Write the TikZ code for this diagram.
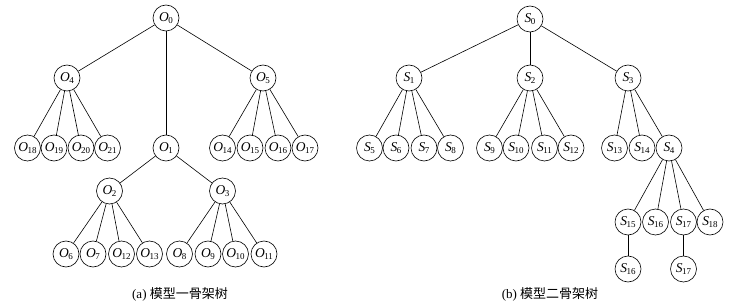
\documentclass[tikz,border=0pt]{standalone}
\usepackage{fontspec}
\setmainfont{Liberation Serif}
\newfontfamily\cjk{Noto Sans CJK SC}
\usetikzlibrary{positioning}

\newcommand{\kn}[2]{\textit{#1}\kern-0.04em\raisebox{-0.45ex}{\fontsize{9}{9}\selectfont #2}}

\tikzset{
  knoten/.style={circle, draw, line width=0.6pt, minimum size=26pt, inner sep=0pt,
                 font=\fontsize{13.5}{13.5}\selectfont},
  kante/.style={line width=0.6pt},
  titel/.style={font=\fontsize{13}{15}\selectfont}
}

\begin{document}
\begin{tikzpicture}[x=1pt, y=-1pt]
  \useasboundingbox (0,0) rectangle (738,307);

  % (a) Modell eins
  \node[knoten] (O0) at (166,18) {\kn{O}{0}};
  \node[knoten] (O4) at (67,78) {\kn{O}{4}};
  \node[knoten] (O1) at (166,148) {\kn{O}{1}};
  \node[knoten] (O5) at (263,78) {\kn{O}{5}};
  \node[knoten] (O2) at (109.5,191) {\kn{O}{2}};
  \node[knoten] (O3) at (222.5,191) {\kn{O}{3}};
  \foreach \k in {O4,O1,O5} \draw[kante] (O0) -- (\k);
  \foreach \k in {O2,O3} \draw[kante] (O1) -- (\k);

  \foreach \n/\x/\p in {18/27.5/O4, 19/54/O4, 20/81/O4, 21/107.5/O4,
                        14/222.5/O5, 15/250/O5, 16/278/O5, 17/305/O5} {
    \node[knoten] (O\n) at (\x,148) {\kn{O}{\n}};
    \draw[kante] (\p) -- (O\n);
  }
  \foreach \n/\x/\p in {6/66/O2, 7/93/O2, 12/121.5/O2, 13/149.5/O2,
                        8/179.5/O3, 9/208/O3, 10/235.5/O3, 11/264/O3} {
    \node[knoten] (O\n) at (\x,254) {\kn{O}{\n}};
    \draw[kante] (\p) -- (O\n);
  }
  \node[titel] (capa) at (180,294) {(a)\ {\cjk 模型一骨架树}};

  % (b) Modell zwei
  \node[knoten] (S0) at (530,19) {\kn{S}{0}};
  \node[knoten] (S1) at (409,78) {\kn{S}{1}};
  \node[knoten] (S2) at (530,78) {\kn{S}{2}};
  \node[knoten] (S3) at (628,78) {\kn{S}{3}};
  \foreach \k in {S1,S2,S3} \draw[kante] (S0) -- (\k);

  \foreach \n/\x/\p in {5/369.5/S1, 6/396/S1, 7/424/S1, 8/450.5/S1,
                        9/489.5/S2, 10/516/S2, 11/544.5/S2, 12/571/S2,
                        13/614.5/S3, 14/642/S3, 4/669/S3} {
    \node[knoten] (S\n) at (\x,148) {\kn{S}{\n}};
    \draw[kante] (\p) -- (S\n);
  }
  \foreach \n/\x in {15/628, 16/655.5, 17/683.5, 18/710} {
    \node[knoten] (S\n) at (\x,222) {\kn{S}{\n}};
    \draw[kante] (S4) -- (S\n);
  }
  \node[knoten] (S16b) at (628,269) {\kn{S}{16}};
  \node[knoten] (S17b) at (683.5,269) {\kn{S}{17}};
  \draw[kante] (S15) -- (S16b);
  \draw[kante] (S17) -- (S17b);
  \node[titel] (capb) at (550,294) {(b)\ {\cjk 模型二骨架树}};
\end{tikzpicture}
\end{document}
